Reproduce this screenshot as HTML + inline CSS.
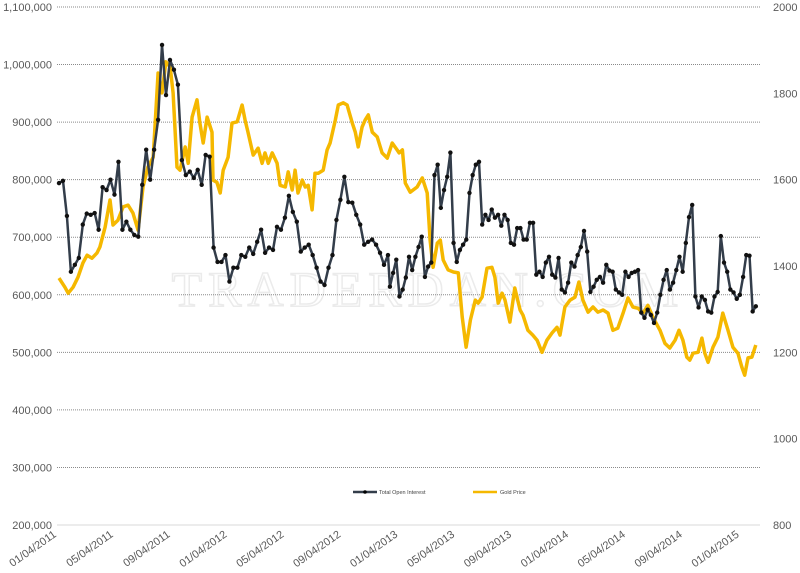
<!DOCTYPE html>
<html><head><meta charset="utf-8"><style>
body{margin:0;background:#fff;}
svg{display:block;font-family:"Liberation Sans",sans-serif;}
</style></head><body>
<svg id="chart" width="800" height="573" viewBox="0 0 800 573">
<text x="428" y="306" text-anchor="middle" font-family="Liberation Serif,serif" font-size="50" letter-spacing="6" fill="none" stroke="#ebebeb" stroke-width="1.5">TRADERDAN.COM</text>
<g id="grid"></g>
<g id="ylabels"></g>
<g id="y2labels"></g>
<g id="xlabels"></g>
<g id="series"></g>
<g>
<g>
<line x1="353" y1="492" x2="377" y2="492" stroke="#333d4a" stroke-width="2.5"/>
<circle cx="365" cy="492" r="1.8" fill="#000"/>
<text x="379" y="494" font-size="5.5" fill="#444">Total Open Interest</text></g>
<g>
<line x1="473" y1="492" x2="497" y2="492" stroke="#f5b800" stroke-width="2.5"/>
<text x="500" y="494" font-size="5.5" fill="#444">Gold Price</text></g>
</g>
</svg>
<script>
const leftTicks=[200000,300000,400000,500000,600000,700000,800000,900000,1000000,1100000];
const rightTicks=[800,1000,1200,1400,1600,1800,2000];
const dateLabels=["01/04/2011","05/04/2011","09/04/2011","01/04/2012","05/04/2012","09/04/2012","01/04/2013","05/04/2013","09/04/2013","01/04/2014","05/04/2014","09/04/2014","01/04/2015"];
// week ranges (weeks since 01/04/2011) covered by each open-interest segment
const oiSegWeeks=[[0,100.6],[101.2,213.1]];
const openInterestA=[794,798,737,640,652,664,722,741,739,742,713,787,782,800,774,831,713,727,713,704,701,791,852,800,852,904,1034,947,1008,991,965,834,808,814,803,817,791,843,840,682,657,657,669,623,647,647,669,666,682,671,692,713,673,682,678,718,713,734,772,744,727,675,682,687,669,647,623,617,647,669,730,765,805,761,760,739,722,687,692,696,687,673,652,669];
const openInterestB=[614,638,661,597,609,630,666,643,666,683,701,631,649,656,808,826,751,782,805,847,690,657,678,687,696,777,808,826,831,722,739,730,748,734,739,720,739,730,690,687,716,716,696,696,725,725,635,640,631,656,666,635,630,664,609,604,621,656,649,669,683,711,675,605,614,626,631,621,652,642,640,609,604,600,640,631,638,640,643,569,560,574,565,551,569,600,626,643,609,621,643,666,640,690,735,756,597,578,597,591,571,569,597,605,702,656,640,609,604,593,600,631,669,668,571,580];
// gold: week numbers (since 01/04/2011) and prices
const goldWeeks=[0,1.8,2.8,4.3,5.8,7.3,8.6,10.1,11.6,12.5,14.1,15.6,16.5,18.0,19.6,21.1,22.6,24.2,25.7,27.2,28.8,30.3,31.5,32.7,34.0,34.9,36.1,37.0,38.6,39.5,40.7,42.2,43.1,44.1,45.3,46.8,47.1,48.3,49.3,50.2,51.7,52.9,54.5,56.0,56.9,57.8,59.4,60.9,62.1,63.0,64.0,65.2,66.7,67.6,69.2,70.1,71.3,72.2,73.1,74.4,75.3,76.2,77.4,78.3,79.3,80.8,82.0,82.9,84.5,85.4,86.9,88.1,89.7,90.6,91.5,92.7,93.6,94.6,95.8,97.3,98.8,100.4,101.9,103.4,
104.0,105.0,105.9,107.4,109.5,111.1,112.6,113.5,114.4,115.7,116.6,117.5,119.0,120.6,122.1,123.3,124.5,125.8,127.3,128.2,129.4,130.9,132.4,133.3,134.3,135.5,136.4,137.9,139.4,141.0,141.9,143.4,144.9,146.2,147.7,149.2,150.8,152.3,153.2,154.7,156.3,157.8,159.0,160.2,161.8,163.3,164.8,166.4,167.9,169.4,170.9,172.5,174.0,175.5,177.1,178.6,180.1,181.6,183.8,185.3,186.8,188.4,189.6,190.8,192.0,192.9,193.9,195.4,196.6,197.5,198.5,200.0,201.5,203.0,204.6,206.1,207.6,208.8,209.7,210.7,211.9,213.1];
const goldPrice=[1372,1351,1337,1351,1374,1407,1425,1418,1430,1444,1490,1553,1495,1506,1537,1541,1523,1483,1583,1629,1652,1847,1801,1873,1861,1801,1629,1622,1676,1638,1745,1785,1731,1685,1745,1710,1599,1594,1569,1622,1652,1731,1734,1773,1738,1710,1657,1673,1638,1662,1638,1662,1638,1587,1583,1618,1576,1622,1569,1599,1583,1587,1530,1615,1615,1622,1669,1685,1738,1773,1778,1773,1731,1710,1676,1722,1738,1750,1710,1699,1662,1650,1685,1669,
1662,1669,1592,1571,1583,1604,1569,1460,1397,1453,1460,1414,1391,1386,1384,1282,1212,1275,1321,1314,1328,1395,1397,1374,1314,1337,1321,1270,1349,1298,1286,1251,1240,1228,1200,1228,1245,1258,1240,1305,1321,1328,1363,1321,1293,1305,1293,1298,1291,1251,1256,1291,1326,1305,1302,1291,1309,1282,1251,1221,1210,1228,1251,1228,1189,1182,1198,1200,1233,1198,1177,1212,1235,1291,1251,1212,1198,1166,1147,1187,1189,1217];

const NS="http://www.w3.org/2000/svg";
const TOP=7,BOT=525,GL=57,GR=760;
const yL=v=>BOT-(v-200000)/900000*(BOT-TOP);
const yR=v=>BOT-(v-800)/1200*(BOT-TOP);
const xW=w=>59+w*3.27;
const xD=i=>57+i*56.9;
function seg(vals,range){return vals.map((v,i)=>[range[0]+i*(range[1]-range[0])/(vals.length-1),v]);}
const oiPts=seg(openInterestA,oiSegWeeks[0]).concat(seg(openInterestB,oiSegWeeks[1]));
const goldPts=goldPrice.map((v,i)=>[goldWeeks[i],v]);
function mk(tag,attrs,parent){const e=document.createElementNS(NS,tag);for(const k in attrs)e.setAttribute(k,attrs[k]);parent.appendChild(e);return e;}
const grid=document.getElementById('grid'),yl=document.getElementById('ylabels'),yr=document.getElementById('y2labels'),xl=document.getElementById('xlabels'),ser=document.getElementById('series');
leftTicks.forEach((t,i)=>{
 const y=yL(t);
 const ln=mk('line',{x1:GL,x2:GR,y1:y,y2:y,stroke:i===0?'#d9d9d9':'#8a8a8a','stroke-width':1,'stroke-dasharray':i===0?'':'1,1'},grid);
 
 
 const tx=mk('text',{x:52,y:y+4,'text-anchor':'end','font-size':11,fill:'#595959'},yl);
 tx.textContent=t.toLocaleString('en-US');
 
 
});
rightTicks.forEach(t=>{
 const tx=mk('text',{x:773,y:yR(t)+4,'font-size':11,fill:'#595959'},yr);
 tx.textContent=t;
 
 
});
dateLabels.forEach((d,i)=>{
 const x=xD(i);
 const tx=mk('text',{x:x,y:536,'text-anchor':'end','font-size':11,fill:'#595959',transform:`rotate(-35 ${x} 536)`},xl);
 tx.textContent=d;
 
 
});
const gp=goldPts.map(p=>`${xW(p[0]).toFixed(1)},${yR(p[1]).toFixed(1)}`).join(' ');
const gl=mk('polyline',{points:gp,fill:'none',stroke:'#f5b800','stroke-width':3.5,'stroke-linejoin':'round'},ser);


const op=oiPts.map(p=>`${xW(p[0]).toFixed(1)},${yL(p[1]*1000).toFixed(1)}`).join(' ');
const ol=mk('polyline',{points:op,fill:'none',stroke:'#333d4a','stroke-width':2.5,'stroke-linejoin':'round'},ser);


oiPts.forEach(p=>{
 const c=mk('circle',{cx:xW(p[0]),cy:yL(p[1]*1000),r:2.2,fill:'#111'},ser);
 
 
});
</script>
</body></html>
